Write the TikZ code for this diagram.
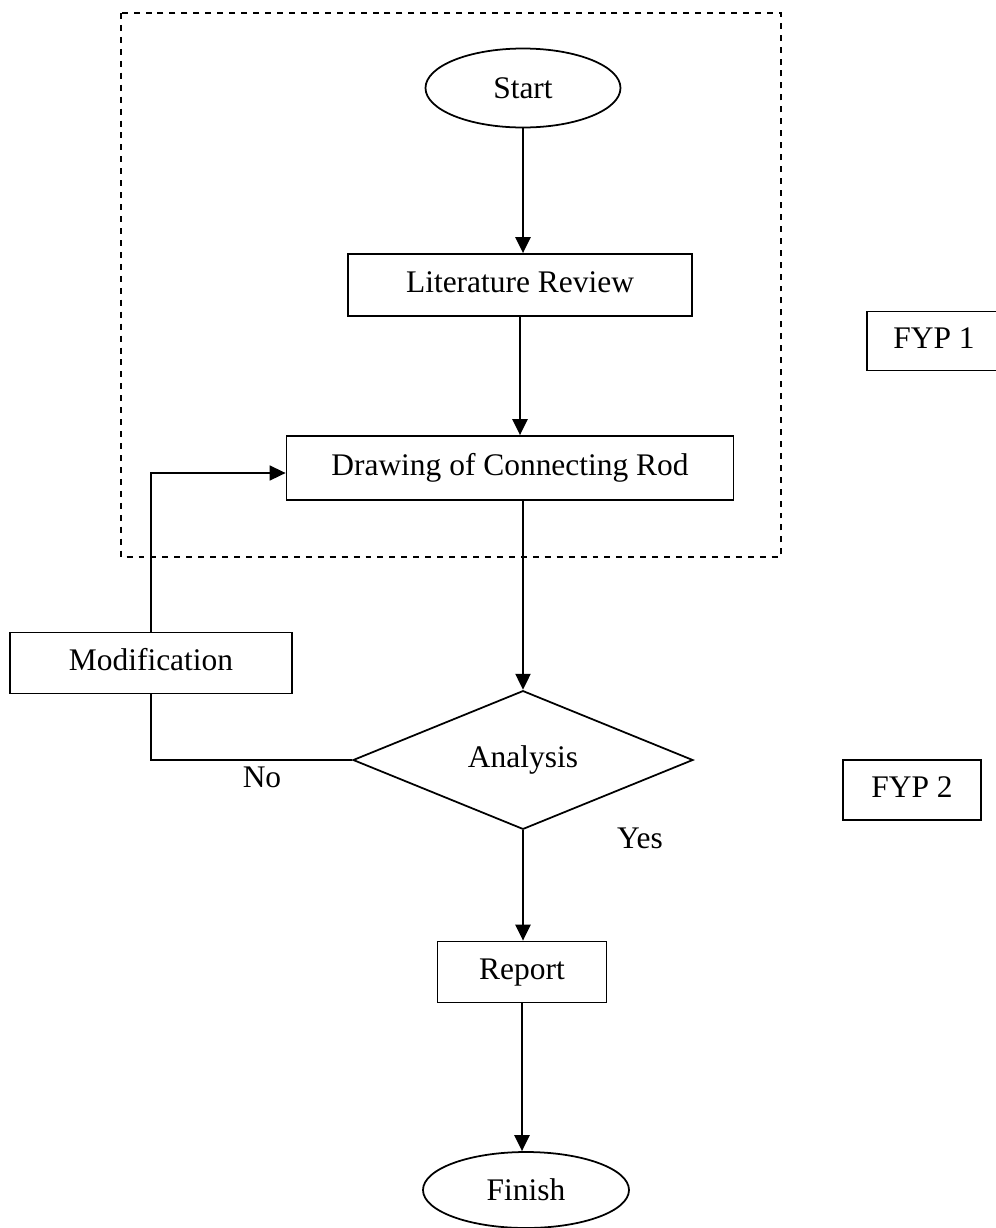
\documentclass[tikz,border=0pt]{standalone}
\usepackage{fontspec}
\setmainfont{Liberation Serif}
\usetikzlibrary{arrows.meta}
\usetikzlibrary{shapes.geometric}

\begin{document}
\begin{tikzpicture}[x=0.02cm, y=-0.02cm,
    every node/.style={font=\fontsize{17.9}{21}\selectfont},
    stepbox/.style={draw, line width=1pt, rectangle, inner sep=0pt, text height=0.85em, text depth=0.05em},
    terminal/.style={draw, line width=1pt, ellipse, inner sep=0pt},
    decision/.style={draw, line width=1pt, diamond, inner sep=0pt},
    arr/.style={line width=1.3pt, -{Triangle[length=0.32cm, width=0.3cm]}},
    link/.style={line width=0.9pt}]

      \useasboundingbox (0,0) rectangle (996,1228);

      \draw[line width=0.9pt, dash pattern=on 3.4pt off 3.4pt] (121,13) rectangle (781,557);

      \node[terminal, minimum width=195*0.02cm, minimum height=79*0.02cm] (start) at (523,88) {Start};
      \node[stepbox, minimum width=344*0.02cm, minimum height=62*0.02cm] (lit) at (520,285) {Literature Review};
      \node[stepbox, minimum width=447*0.02cm, minimum height=64*0.02cm] (drawing) at (510,468) {Drawing of Connecting Rod};
      \node[decision, minimum width=340*0.02cm, minimum height=112*0.02cm] (ana) at (523,760) {Analysis};
      \node[stepbox, minimum width=282*0.02cm, minimum height=61*0.02cm] (mod) at (151,663) {Modification};
      \node[stepbox, minimum width=169*0.02cm, minimum height=61*0.02cm] (rep) at (522,972) {Report};
      \node[terminal, minimum width=206*0.02cm, minimum height=76*0.02cm] (fin) at (526,1190) {Finish};

      \node[stepbox, minimum width=134*0.02cm, minimum height=59*0.02cm] (fyp1) at (934,341) {FYP 1};
      \node[stepbox, minimum width=138*0.02cm, minimum height=60*0.02cm] (fyp2) at (912,790) {FYP 2};

      \node (no) at (262,777) {No};
      \node (yes) at (640,838) {Yes};

      \draw[arr] (start) -- (start |- lit.north);
      \draw[arr] (lit) -- (lit |- drawing.north);
      \draw[arr] (ana.north |- drawing.south) -- (ana.north);
      \draw[arr] (ana.south) -- (ana.south |- rep.north);
      \draw[arr] (rep.south) -- (rep.south |- fin.north);

      \draw[link] (ana.west) -- (ana.west -| mod) -- (mod.south);
      \draw[arr, line width=0.9pt] (mod.north) |- ([yshift=-5*0.02cm]drawing.west);
    \end{tikzpicture}
\end{document}
